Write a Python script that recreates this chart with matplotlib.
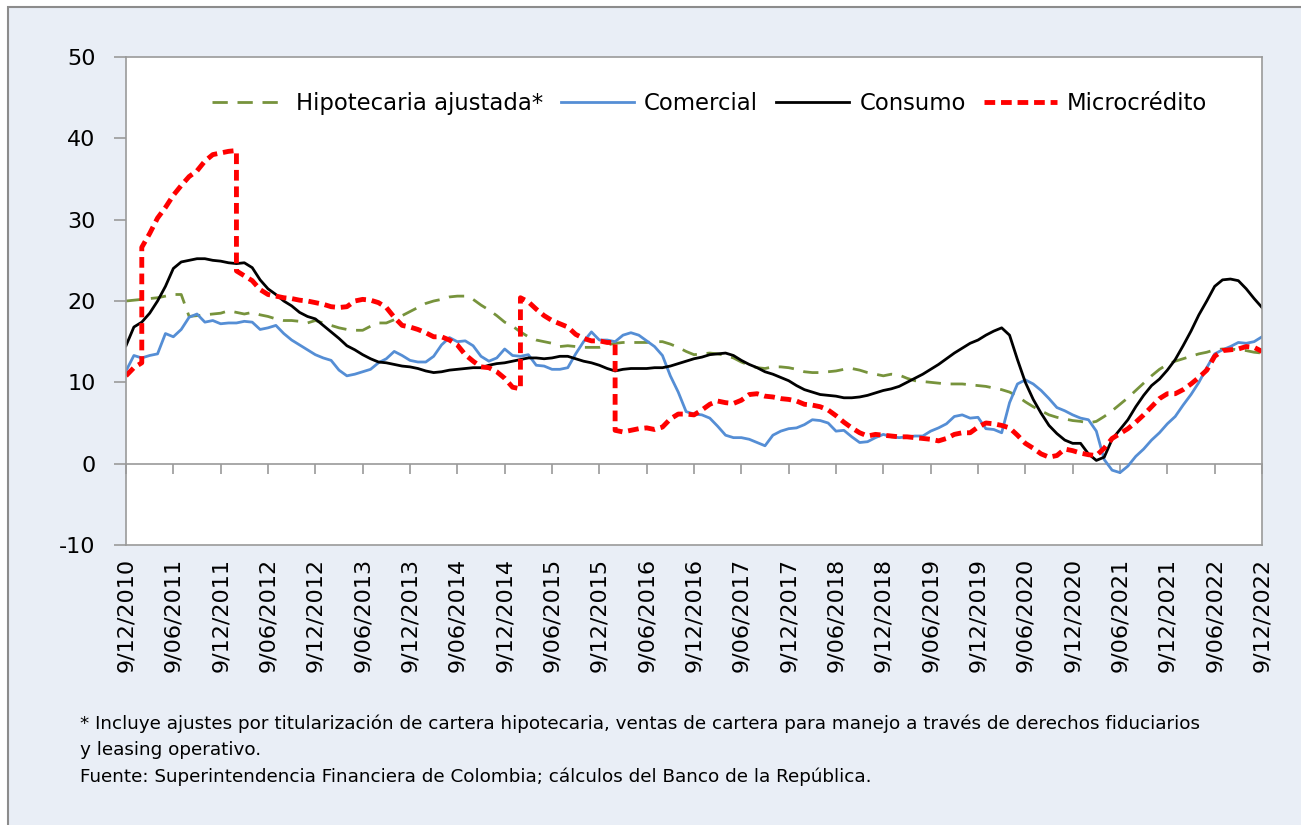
import numpy as np
import matplotlib
matplotlib.use("Agg")
import matplotlib.pyplot as plt
from matplotlib.patches import Rectangle

# Monthly readings, month 0 = 9/12/2010 ... month 144 = 9/12/2022
hipotecaria = [
    20.0, 20.1, 20.2, 20.3, 20.4, 20.6, 20.8, 20.8, 18.1, 18.2,
    18.3, 18.4, 18.5, 18.8, 18.6, 18.4, 18.6, 18.3, 18.1, 17.8,
    17.6, 17.6, 17.5, 17.3, 17.6, 17.3, 17.0, 16.7, 16.5, 16.4,
    16.4, 16.9, 17.3, 17.3, 17.7, 18.2, 18.7, 19.2, 19.7, 20.0,
    20.2, 20.5, 20.6, 20.6, 20.2, 19.5, 18.9, 18.2, 17.4, 16.9,
    16.2, 15.6, 15.2, 15.0, 14.8, 14.4, 14.5, 14.4, 14.3, 14.3,
    14.3, 14.6, 14.8, 14.9, 14.9, 14.9, 14.9, 15.0, 15.0, 14.7,
    14.3, 13.8, 13.4, 13.5, 13.6, 13.5, 13.3, 13.0, 12.5, 12.1,
    11.8, 11.7, 11.9, 11.9, 11.8, 11.6, 11.3, 11.2, 11.2, 11.3,
    11.4, 11.6, 11.7, 11.5, 11.2, 11.0, 10.8, 11.0, 10.9, 10.5,
    10.2, 10.1, 10.0, 9.9, 9.8, 9.8, 9.8, 9.7, 9.6, 9.5,
    9.3, 9.1, 8.8, 8.3, 7.6, 7.0, 6.5, 6.0, 5.7, 5.5,
    5.3, 5.2, 5.0, 5.2, 5.8, 6.5, 7.3, 8.1, 9.0, 9.9,
    10.8, 11.6, 12.2, 12.6, 12.9, 13.2, 13.5, 13.7, 14.0, 14.1,
    14.1, 14.0, 13.9, 13.7, 13.6,
]

comercial = [
    11.4, 13.3, 13.0, 13.3, 13.5, 16.0, 15.6, 16.5, 18.0, 18.4,
    17.4, 17.6, 17.2, 17.3, 17.3, 17.5, 17.4, 16.5, 16.7, 17.0,
    16.0, 15.2, 14.6, 14.0, 13.4, 13.0, 12.7, 11.5, 10.8, 11.0,
    11.3, 11.6, 12.4, 12.9, 13.8, 13.3, 12.7, 12.5, 12.5, 13.2,
    14.6, 15.5, 15.0, 15.1, 14.5, 13.2, 12.6, 13.0, 14.1, 13.3,
    13.2, 13.4, 12.1, 12.0, 11.6, 11.6, 11.8, 13.5, 15.0, 16.2,
    15.2, 15.2, 15.0, 15.8, 16.1, 15.8, 15.1, 14.4, 13.3, 10.8,
    8.8, 6.4, 6.1, 6.0, 5.6, 4.6, 3.5, 3.2, 3.2, 3.0,
    2.6, 2.2, 3.5, 4.0, 4.3, 4.4, 4.8, 5.4, 5.3, 5.0,
    4.0, 4.1, 3.3, 2.6, 2.7, 3.2, 3.6, 3.3, 3.2, 3.3,
    3.4, 3.4, 4.0, 4.4, 4.9, 5.8, 6.0, 5.6, 5.7, 4.3,
    4.2, 3.8, 7.5, 9.8, 10.3, 9.8, 9.0, 8.0, 6.9, 6.5,
    6.0, 5.6, 5.4, 4.0, 0.5, -0.8, -1.1, -0.3, 0.9, 1.8,
    2.9, 3.8, 4.9, 5.8, 7.2, 8.5, 10.0, 11.8, 13.5, 14.0,
    14.4, 14.9, 14.8, 15.0, 15.6,
]

consumo = [
    14.5, 16.8, 17.4, 18.5, 20.0, 21.8, 24.0, 24.8, 25.0, 25.2,
    25.2, 25.0, 24.9, 24.7, 24.6, 24.7, 24.1, 22.6, 21.5, 20.8,
    20.0, 19.4, 18.6, 18.1, 17.8, 17.0, 16.2, 15.4, 14.5, 14.0,
    13.4, 12.9, 12.5, 12.4, 12.2, 12.0, 11.9, 11.7, 11.4, 11.2,
    11.3, 11.5, 11.6, 11.7, 11.8, 11.8, 12.1, 12.3, 12.4, 12.6,
    12.8, 13.0, 13.0, 12.9, 13.0, 13.2, 13.2, 12.9, 12.6, 12.4,
    12.1, 11.7, 11.4, 11.6, 11.7, 11.7, 11.7, 11.8, 11.8, 12.0,
    12.3, 12.6, 12.9, 13.1, 13.4, 13.5, 13.6, 13.3, 12.7, 12.2,
    11.8, 11.3, 11.0, 10.6, 10.2, 9.6, 9.1, 8.8, 8.5, 8.4,
    8.3, 8.1, 8.1, 8.2, 8.4, 8.7, 9.0, 9.2, 9.5, 10.0,
    10.5, 11.0, 11.6, 12.2, 12.9, 13.6, 14.2, 14.8, 15.2, 15.8,
    16.3, 16.7, 15.8, 12.8, 10.0, 7.9, 6.2, 4.7, 3.7, 2.9,
    2.5, 2.5, 1.2, 0.4, 0.8, 3.0, 4.2, 5.4, 7.0, 8.4,
    9.6, 10.4, 11.5, 12.8, 14.5, 16.3, 18.3, 20.0, 21.8, 22.6,
    22.7, 22.5, 21.5, 20.3, 19.2,
]

microcredito = [
    10.8, 11.8, 12.4, 28.3, 30.2, 31.5, 33.0, 34.2, 35.3, 36.0,
    37.2, 38.0, 38.2, 38.4, 38.5, 23.1, 22.5, 21.4, 20.8, 20.6,
    20.4, 20.3, 20.1, 20.0, 19.8, 19.6, 19.3, 19.2, 19.3, 20.0,
    20.2, 20.1, 19.8, 19.2, 18.0, 17.0, 16.8, 16.5, 16.1, 15.6,
    15.6, 15.2, 14.6, 13.4, 12.6, 11.9, 11.8, 11.3, 10.5, 9.4,
    9.2, 19.9, 19.0, 18.2, 17.6, 17.2, 16.8, 15.9, 15.4, 15.1,
    15.1, 14.9, 14.9, 3.9, 4.1, 4.3, 4.4, 4.2, 4.5, 5.5,
    6.1, 6.1, 6.0, 6.6, 7.3, 7.7, 7.5, 7.4, 7.8, 8.5,
    8.6, 8.3, 8.2, 8.0, 7.9, 7.7, 7.3, 7.2, 7.0, 6.6,
    5.9, 5.1, 4.4, 3.8, 3.4, 3.6, 3.5, 3.4, 3.3, 3.3,
    3.2, 3.1, 3.0, 2.8, 3.1, 3.6, 3.8, 3.8, 4.5, 5.0,
    4.9, 4.7, 4.4, 3.5, 2.5, 1.9, 1.2, 0.8, 1.0, 1.8,
    1.6, 1.3, 1.1, 1.0, 1.9, 3.1, 3.7, 4.3, 5.1, 6.0,
    7.0, 8.0, 8.6, 8.6, 9.1, 9.8, 10.6, 11.5, 13.2, 13.9,
    14.0, 14.1, 14.4, 14.3, 13.8,
]
# month: value right after a vertical jump
micro_jumps = {2: 26.6, 14: 23.7, 50: 20.4, 62: 4.1}

tick_labels = [
    "9/12/2010", "9/06/2011", "9/12/2011", "9/06/2012", "9/12/2012",
    "9/06/2013", "9/12/2013", "9/06/2014", "9/12/2014", "9/06/2015",
    "9/12/2015", "9/06/2016", "9/12/2016", "9/06/2017", "9/12/2017",
    "9/06/2018", "9/12/2018", "9/06/2019", "9/12/2019", "9/06/2020",
    "9/12/2020", "9/06/2021", "9/12/2021", "9/06/2022", "9/12/2022",
]

notes = [
    "* Incluye ajustes por titularización de cartera hipotecaria, ventas de cartera para manejo a través de derechos fiduciarios",
    "y leasing operativo.",
    "Fuente: Superintendencia Financiera de Colombia; cálculos del Banco de la República.",
]

plt.rcParams["axes.unicode_minus"] = False

months = np.arange(len(consumo))
mic_t, mic_v = [], []
for m, v in zip(months, microcredito):
    mic_t.append(m)
    mic_v.append(v)
    if m in micro_jumps:
        mic_t.append(m)
        mic_v.append(micro_jumps[m])

gray = "#9a9a9a"
fig = plt.figure(figsize=(13.01, 8.25), dpi=100, facecolor="white")
fig.patches.append(Rectangle((8 / 1301, -0.05), 1.1, 1.05 - 7 / 825,
                             transform=fig.transFigure, facecolor="#e9eef6",
                             edgecolor="#8c8c8c", lw=1.5, zorder=-1))

ax = fig.add_axes([126 / 1301, 1 - 545 / 825, 1136 / 1301, 488 / 825])
ax.set_facecolor("white")

ax.plot(months, hipotecaria, color="#77933c", lw=2, dashes=(5.5, 3.5),
        label="Hipotecaria ajustada*")
ax.plot(months, comercial, color="#558ed5", lw=2, label="Comercial")
ax.plot(months, consumo, color="black", lw=2, label="Consumo")
ax.plot(mic_t, mic_v, color="#ff0000", lw=3.5, dashes=(2.2, 1.2),
        label="Microcrédito")

ax.set_xlim(0, 144)
ax.set_ylim(-10, 50)
ax.set_yticks(range(-10, 51, 10))
ax.set_xticks(range(0, 145, 6))
ax.set_xticklabels(tick_labels)

for s in ax.spines.values():
    s.set_color(gray)
    s.set_linewidth(1.2)
ax.tick_params(axis="y", direction="out", length=9, width=1.2, color=gray,
               labelsize=16, pad=13)
ax.tick_params(axis="x", length=0, labelsize=16, labelrotation=90, pad=9)

# zero line carries the x tick marks
zero = ax.secondary_xaxis(10 / 60)
zero.set_xticks(range(0, 145, 6))
zero.tick_params(axis="x", direction="out", length=7, width=1.2, color=gray,
                 labelbottom=False)
zero.spines["bottom"].set_color(gray)
zero.spines["bottom"].set_linewidth(1.2)

ax.legend(loc="center", bbox_to_anchor=(0.514, 0.904), ncol=4, frameon=False,
          fontsize=16.4, handlelength=3.2, handletextpad=0.45, columnspacing=0.8)

for t, yy in zip(notes, [724, 750, 777]):
    fig.text(80 / 1301, 1 - yy / 825, t, fontsize=13.25, va="center", ha="left")

fig.savefig("out.png", dpi=100)
